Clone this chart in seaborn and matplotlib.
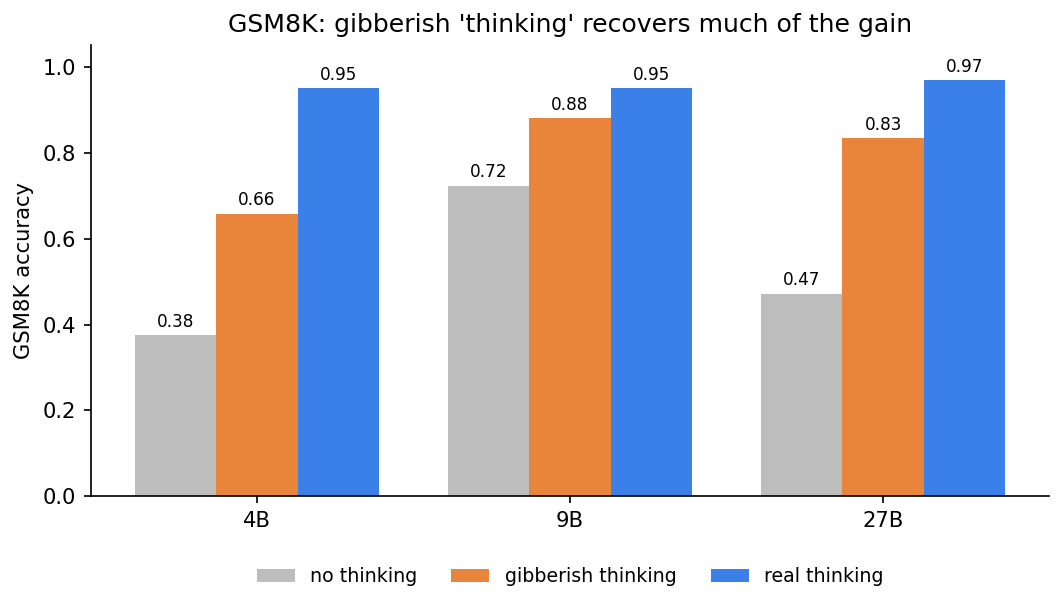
import pandas as pd
from matplotlib import pyplot as plt
import seaborn as sns

models = ['4B', '9B', '27B']
conditions = ['no thinking', 'gibberish thinking', 'real thinking']
no_thinking = [0.376, 0.724, 0.472]
gibberish_thinking = [0.659, 0.881, 0.834]
real_thinking = [0.951, 0.951, 0.970]
colors = ['#bdbdbd', '#e8853a', '#3b7fe8']

df = pd.DataFrame({
    'model': models * 3,
    'condition': [c for c in conditions for _ in models],
    'accuracy': no_thinking + gibberish_thinking + real_thinking,
})

plt.rcParams['font.family'] = ['DejaVu Sans']

fig, ax = plt.subplots(figsize=(7, 4), dpi=152)
fig.subplots_adjust(left=0.0855, right=0.986, bottom=0.184, top=0.926)

sns.barplot(data=df, x='model', y='accuracy', hue='condition', order=models,
            hue_order=conditions, palette=colors, width=0.78, gap=0,
            saturation=1, errorbar=None, linewidth=0, ax=ax)

# value labels on top of every bar
for cont in ax.containers:
    ax.bar_label(cont, fmt='%.2f', padding=2, fontsize=8)

ax.set_ylim(0, 1.052)
ax.set_xlim(-0.53, 2.53)
ax.set_xlabel('')
ax.set_ylabel('GSM8K accuracy', fontsize=10)
ax.set_title("GSM8K: gibberish 'thinking' recovers much of the gain", fontsize=11.9)
ax.tick_params(labelsize=10)
sns.despine(ax=ax)

ax.legend(loc='upper center', bbox_to_anchor=(0.5, -0.12), ncol=3, frameon=False,
          fontsize=9, columnspacing=1.8, title=None)

fig.savefig('out.png', dpi=152)
